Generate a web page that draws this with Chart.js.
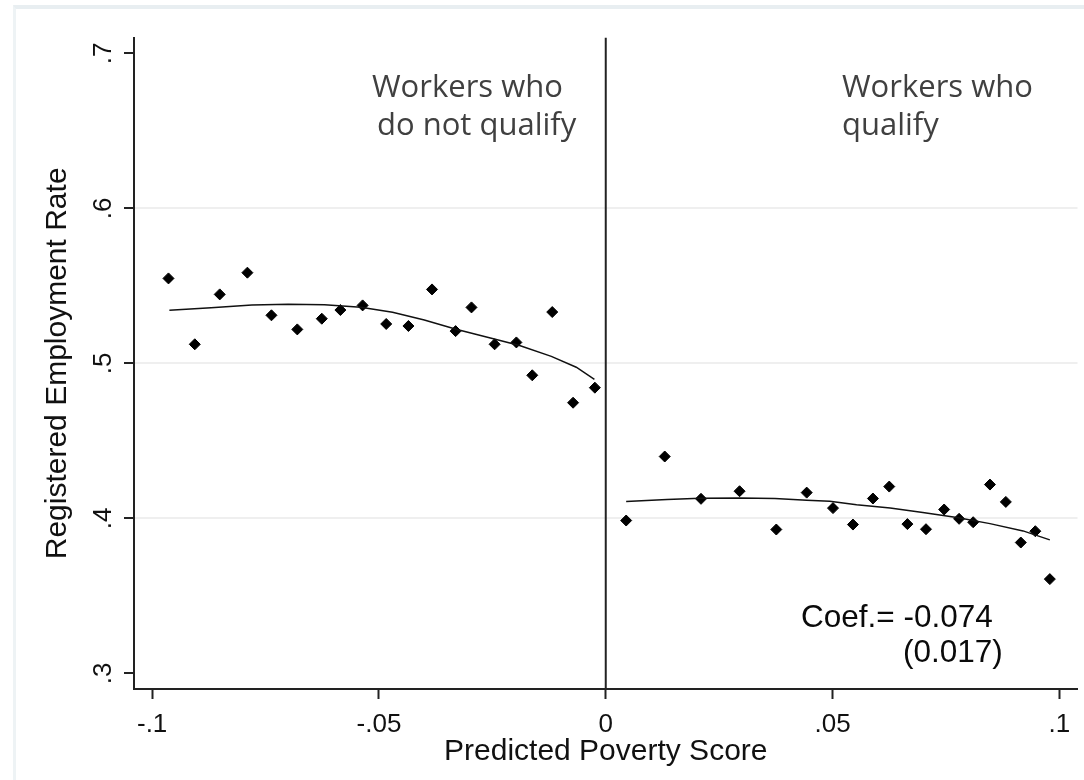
<!DOCTYPE html>
<html>
<head>
<meta charset="utf-8">
<script src="https://cdn.jsdelivr.net/npm/chart.js@4/dist/chart.umd.min.js"></script>
<style>
  html, body { margin: 0; padding: 0; background: #ffffff; }
  #wrap { position: relative; width: 1084px; height: 780px; overflow: hidden; }
  #frame { position: absolute; left: 13px; top: 5px; right: 0; bottom: 0;
           border-top: 4px solid #e8eef1; border-left: 3px solid #eef3f5; }
  canvas { position: absolute; left: 0; top: 0; }
</style>
</head>
<body>
<div id="wrap">
  <div id="frame"></div>
  <canvas id="rdChart" width="1084" height="780"></canvas>
</div>
<script>
// Binned means of registered employment by predicted poverty score
const scoreBelow = [-0.0964, -0.0906, -0.0851, -0.0790, -0.0737, -0.0680, -0.0626, -0.0585, -0.0536, -0.0484,
                    -0.0435, -0.0383, -0.0331, -0.0296, -0.0245, -0.0197, -0.0162, -0.0118, -0.0072, -0.0024];
const rateBelow  = [0.5548, 0.5123, 0.5445, 0.5585, 0.5310, 0.5219, 0.5288, 0.5344, 0.5374, 0.5254,
                    0.5241, 0.5477, 0.5208, 0.5361, 0.5123, 0.5135, 0.4923, 0.5331, 0.4746, 0.4843];
const scoreAbove = [0.0045, 0.0130, 0.0210, 0.0295, 0.0376, 0.0443, 0.0501, 0.0545, 0.0589, 0.0625,
                    0.0665, 0.0706, 0.0746, 0.0779, 0.0810, 0.0847, 0.0882, 0.0915, 0.0947, 0.0979];
const rateAbove  = [0.3986, 0.4399, 0.4126, 0.4175, 0.3928, 0.4166, 0.4066, 0.3960, 0.4128, 0.4205,
                    0.3963, 0.3930, 0.4057, 0.3997, 0.3975, 0.4218, 0.4106, 0.3844, 0.3917, 0.3608];

// Fitted curves on each side of the eligibility cutoff
const fitBelowX = [-0.0962, -0.0870, -0.0780, -0.0700, -0.0620, -0.0540, -0.0470, -0.0400, -0.0330, -0.0250, -0.0190, -0.0120, -0.0065, -0.0025];
const fitBelowY = [0.5342, 0.5358, 0.5376, 0.5381, 0.5378, 0.5362, 0.5330, 0.5280, 0.5220, 0.5160, 0.5115, 0.5045, 0.4975, 0.4897];
const fitAboveX = [0.0045, 0.0135, 0.0208, 0.0296, 0.0373, 0.0443, 0.0494, 0.0553, 0.0627, 0.0699, 0.0774, 0.0847, 0.0920, 0.0979];
const fitAboveY = [0.4108, 0.4121, 0.4130, 0.4132, 0.4128, 0.4117, 0.4111, 0.4087, 0.4066, 0.4037, 0.4005, 0.3966, 0.3919, 0.3861];

const cutoff = 0;
const xTicks = [-0.1, -0.05, 0, 0.05, 0.1];
const xTickLabels = ['-.1', '-.05', '0', '.05', '.1'];
const yTicks = [0.3, 0.4, 0.5, 0.6, 0.7];
const yTickLabels = ['.3', '.4', '.5', '.6', '.7'];

const groupLabels = [['Workers who', 'do not qualify'], ['Workers who', 'qualify']];
const coefLabel = 'Coef.= -0.074';
const seLabel = '(0.017)';

const pairs = (xs, ys) => xs.map((v, i) => ({ x: v, y: ys[i] }));

const AXIS_FONT = '"Liberation Sans", Arial, sans-serif';
const INK = '#111111';

const overlay = {
  id: 'overlay',
  beforeDatasetsDraw(chart) {
    const { ctx, chartArea, scales } = chart;
    const cx = scales.x.getPixelForValue(cutoff);
    ctx.save();
    ctx.strokeStyle = '#222';
    ctx.lineWidth = 2;
    ctx.beginPath();
    ctx.moveTo(cx, chartArea.top);
    ctx.lineTo(cx, chartArea.bottom);
    ctx.stroke();
    ctx.restore();
  },
  afterDraw(chart) {
    const { ctx, scales } = chart;
    ctx.save();
    // vertical-axis tick labels, turned to read upward
    ctx.font = '26px ' + AXIS_FONT;
    ctx.fillStyle = INK;
    ctx.textAlign = 'center';
    ctx.textBaseline = 'alphabetic';
    yTicks.forEach((v, i) => {
      const py = scales.y.getPixelForValue(v);
      ctx.save();
      ctx.translate(111, py);
      ctx.rotate(-Math.PI / 2);
      ctx.fillText(yTickLabels[i], 0, 0);
      ctx.restore();
    });

    // group captions
    ctx.font = '31px "Open Sans", sans-serif';
    ctx.fillStyle = '#404040';
    ctx.textAlign = 'left';
    ctx.fillText(groupLabels[0][0], 372, 97);
    ctx.fillText(groupLabels[0][1], 377, 134.5);
    ctx.fillText(groupLabels[1][0], 842, 97);
    ctx.fillText(groupLabels[1][1], 842, 134.5);

    // discontinuity estimate
    ctx.font = '31.5px ' + AXIS_FONT;
    ctx.fillStyle = '#0a0a0a';
    ctx.fillText(coefLabel, 801, 627);
    ctx.fillText(seLabel, 903, 662);
    ctx.restore();
  }
};

const dotStyle = {
  pointStyle: 'rectRot',
  pointRadius: 5.5,
  pointBackgroundColor: '#000',
  pointBorderColor: '#000',
  pointBorderWidth: 1,
  showLine: false
};
const fitStyle = {
  showLine: true,
  pointRadius: 0,
  borderColor: '#111',
  borderWidth: 1.5,
  fill: false,
  tension: 0
};

new Chart(document.getElementById('rdChart'), {
  type: 'scatter',
  data: {
    datasets: [
      Object.assign({ data: pairs(fitBelowX, fitBelowY) }, fitStyle),
      Object.assign({ data: pairs(fitAboveX, fitAboveY) }, fitStyle),
      Object.assign({ data: pairs(scoreBelow, rateBelow) }, dotStyle),
      Object.assign({ data: pairs(scoreAbove, rateAbove) }, dotStyle)
    ]
  },
  plugins: [overlay],
  options: {
    responsive: false,
    animation: false,
    devicePixelRatio: 1,
    layout: { padding: { top: 37.7, right: 6, left: 0, bottom: 0 } },
    plugins: { legend: { display: false }, tooltip: { enabled: false } },
    scales: {
      x: {
        type: 'linear',
        min: -0.104,
        max: 0.104,
        afterBuildTicks: s => { s.ticks = xTicks.map(v => ({ value: v })); },
        afterFit: s => { s.height = 91; },
        ticks: {
          callback: v => xTickLabels[xTicks.indexOf(v)],
          font: { family: AXIS_FONT, size: 26 },
          color: INK,
          padding: 10,
          maxRotation: 0,
          autoSkip: false
        },
        grid: { drawOnChartArea: false, drawTicks: true, tickLength: 10, tickColor: '#222', tickWidth: 2 },
        border: { color: '#222', width: 2 },
        title: {
          display: true,
          text: 'Predicted Poverty Score',
          font: { family: AXIS_FONT, size: 30 },
          color: INK,
          padding: { top: 0, bottom: 10 }
        }
      },
      y: {
        type: 'linear',
        min: 0.2899,
        max: 0.7101,
        afterBuildTicks: s => { s.ticks = yTicks.map(v => ({ value: v })); },
        afterFit: s => { s.width = 134; },
        ticks: { display: false },
        grid: {
          drawTicks: true,
          tickLength: 10,
          tickColor: '#222',
          tickWidth: 2,
          lineWidth: 2,
          color: c => (c.tick && c.tick.value > 0.35 && c.tick.value < 0.65) ? '#efefef' : 'rgba(0,0,0,0)'
        },
        border: { color: '#222', width: 2 },
        title: {
          display: true,
          text: 'Registered Employment Rate',
          font: { family: AXIS_FONT, size: 30 },
          color: INK,
          padding: { top: 40, bottom: 0 }
        }
      }
    }
  }
});
</script>
</body>
</html>
